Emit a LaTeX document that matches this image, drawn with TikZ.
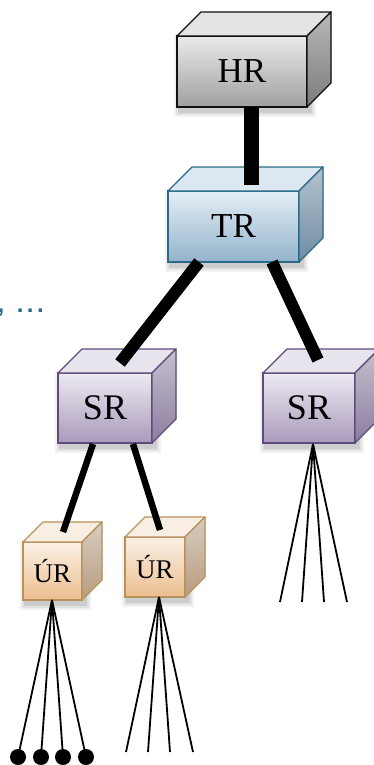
\documentclass[tikz,border=0pt]{standalone}
\usepackage{fontspec}
\setmainfont{Liberation Serif}
\setsansfont{Liberation Sans}
\usetikzlibrary{calc}
\definecolor{hrftop}{HTML}{EAEAEA}\definecolor{hrfbot}{HTML}{A0A0A0}
\definecolor{hrtop}{HTML}{E4E4E4}\definecolor{hrstop}{HTML}{B8B8B8}\definecolor{hrsbot}{HTML}{7C7C7C}
\definecolor{hrline}{HTML}{111111}
\definecolor{trftop}{HTML}{E4EEF6}\definecolor{trfbot}{HTML}{93B3CB}
\definecolor{trtop}{HTML}{DCE8F1}\definecolor{trstop}{HTML}{B4C3CE}\definecolor{trsbot}{HTML}{6F8CA3}
\definecolor{trline}{HTML}{2C6A8A}
\definecolor{srftop}{HTML}{EDEAF1}\definecolor{srfbot}{HTML}{A999BB}
\definecolor{srtop}{HTML}{E8E4EE}\definecolor{srstop}{HTML}{C6C0CE}\definecolor{srsbot}{HTML}{8C7DA0}
\definecolor{srline}{HTML}{5E4C7C}
\definecolor{urftop}{HTML}{FBF1E6}\definecolor{urfbot}{HTML}{EBBE8E}
\definecolor{urtop}{HTML}{F8EEE3}\definecolor{urstop}{HTML}{D8CCC0}\definecolor{ursbot}{HTML}{B89C80}
\definecolor{urline}{HTML}{B8915C}
\definecolor{dotblue}{HTML}{2C6A8C}
\tikzset{
  thick1/.style={line width=15pt, line cap=butt},
  thick2/.style={line width=12pt, line cap=butt},
  thick3/.style={line width=6.5pt, line cap=butt},
  fanline/.style={line width=1.8pt, line cap=butt},
  leaf/.style={circle, fill=black, inner sep=0pt, minimum size=16pt},
}
% #1 name, #2 left, #3 top, #4 width, #5 height, #6 depth, #7 palette, #8 label
\newcommand\mycube[8]{%
  \foreach \s/\o in {6/0.05,4/0.07,2/0.09}{
    \fill[black, opacity=\o] ($(#2+3-\s,#3+4-\s)$) rectangle ($(#2+#4+3+\s,#3+#5+4+\s)$);
  }
  \node[draw=#7line, line width=1.3pt, top color=#7ftop, bottom color=#7fbot,
        minimum width=#4pt, minimum height=#5pt, anchor=north west, inner sep=0pt,
        outer sep=0pt] (#1) at (#2,#3) {#8};
  \filldraw[draw=#7line, line width=1.3pt, line join=round, fill=#7top]
    (#1.north west) -- ++(#6,-#6) -- ++(#4,0) -- (#1.north east) -- cycle;
  \filldraw[draw=#7line, line width=1.3pt, line join=round, top color=#7stop, bottom color=#7sbot]
    (#1.north east) -- ++(#6,-#6) -- ++(0,#5) -- (#1.south east) -- cycle;
}
\begin{document}
\begin{tikzpicture}[x=1pt,y=-1pt]
\useasboundingbox (0,0) rectangle (374,765);
% text fragment
\node[anchor=base west, inner sep=0pt, text=dotblue, font=\sffamily\bfseries\fontsize{24}{26}\selectfont] (frag) at (-2.5,312.5) {,\hspace{12.5pt}.\hspace{3.4pt}.\hspace{3.4pt}.};
% cubes
\mycube{hr}{177}{36}{130}{71}{24}{hr}{\fontsize{35}{36}\selectfont HR}
\mycube{tr}{168}{191}{131}{71}{24}{tr}{\fontsize{35}{36}\selectfont TR}
\mycube{srl}{58}{373}{94}{70}{24}{sr}{\fontsize{36}{38}\selectfont SR}
\mycube{srr}{263}{373}{92}{70}{24}{sr}{\fontsize{36}{38}\selectfont SR}
\mycube{url}{23}{542}{59}{58}{20}{ur}{\fontsize{27}{29}\selectfont ÚR}
\mycube{urr}{125}{537}{60}{60}{20}{ur}{\fontsize{27}{29}\selectfont ÚR}
% connector points
\coordinate (hrb) at (251.5,107);
\coordinate (trt) at (251.5,185);
\coordinate (trbl) at (199,262);
\coordinate (srlt) at (120,363);
\coordinate (trbr) at (272,262);
\coordinate (srrt) at (318,360);
\coordinate (srlbl) at (93,444);
\coordinate (urlt) at (63,532);
\coordinate (srlbr) at (133,444);
\coordinate (urrt) at (160,530);
\draw[thick1] (hrb) -- (trt);
\draw[thick2] (trbl) -- (srlt);
\draw[thick2] (trbr) -- (srrt);
\draw[thick3] (srlbl) -- (urlt);
\draw[thick3] (srlbr) -- (urrt);
% fans
\coordinate (fa) at (52,600);
\coordinate (fb) at (159,597);
\coordinate (fc) at (313,444);
\foreach \x [count=\i] in {18,41,63,86}{
  \node[leaf] (d\i) at (\x,757) {};
  \draw[fanline] (fa) -- (d\i.center);
}
\foreach \x [count=\i] in {126,148,170,193}{
  \coordinate (e\i) at (\x,752);
  \draw[fanline] (fb) -- (e\i);
}
\foreach \x [count=\i] in {280,302,324,347}{
  \coordinate (g\i) at (\x,602);
  \draw[fanline] (fc) -- (g\i);
}
\end{tikzpicture}
\end{document}
